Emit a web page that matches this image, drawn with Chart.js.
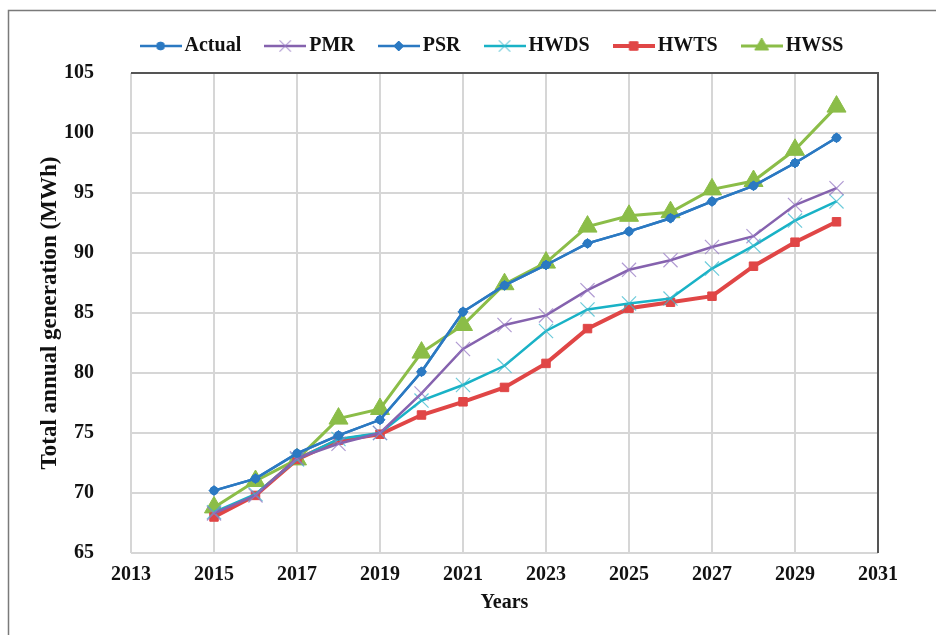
<!DOCTYPE html>
<html><head><meta charset="utf-8">
<script src="https://cdn.jsdelivr.net/npm/chart.js@4/dist/chart.umd.min.js"></script>
<style>html,body{margin:0;padding:0;background:#fff}#wrap{position:relative;width:936px;height:635px}</style>
</head><body><div id="wrap"><canvas id="c" width="936" height="635"></canvas></div>
<script>
const years = [2015,2016,2017,2018,2019,2020,2021,2022,2023,2024,2025,2026,2027,2028,2029,2030];
const actual = [70.2,71.2,73.3,74.8,76.1,80.1,85.1,87.3,89.0,90.8,91.8,92.9,94.3,95.6,97.5,99.6];
const pmr    = [68.3,69.8,72.9,74.1,75.0,78.3,82.0,84.0,84.8,86.9,88.6,89.4,90.5,91.4,94.0,95.4];
const psr    = [70.2,71.2,73.3,74.8,76.1,80.1,85.1,87.3,89.0,90.8,91.8,92.9,94.3,95.6,97.5,99.6];
const hwds   = [68.4,69.9,72.8,74.5,75.0,77.7,79.0,80.6,83.5,85.3,85.8,86.2,88.7,90.6,92.7,94.3];
const hwts   = [68.0,69.8,72.8,74.4,74.9,76.5,77.6,78.8,80.8,83.7,85.4,85.9,86.4,88.9,90.9,92.6];
const hwss   = [68.8,71.0,72.8,76.2,77.0,81.7,84.0,87.4,89.2,92.2,93.1,93.4,95.3,96.0,98.6,102.2];
const xTicks = [2013,2015,2017,2019,2021,2023,2025,2027,2029,2031];
const yTicks = [65,70,75,80,85,90,95,100,105];

const FONT = '"Liberation Serif","DejaVu Serif",serif';
const toXY = arr => arr.map((v,i)=>({x:years[i], y:v}));

const series = [
  {label:'Actual', data:actual, color:'#2B79C2', width:2.5, style:'circle', r:4, pcolor:'#2B79C2', pw:1},
  {label:'PMR', data:pmr, color:'#8562AE', width:2.5, style:'crossRot', r:10, pcolor:'rgba(150,120,195,0.75)', pw:1.2},
  {label:'PSR', data:psr, color:'#2B79C2', width:2.5, style:'rectRot', r:5, pcolor:'#2B79C2', pw:1},
  {label:'HWDS', data:hwds, color:'#19B2C6', width:2.5, style:'crossRot', r:10, pcolor:'rgba(60,185,205,0.75)', pw:1.2},
  {label:'HWTS', data:hwts, color:'#E04646', width:4, style:'rect', r:6, pcolor:'#E04646', pw:1},
  {label:'HWSS', data:hwss, color:'#8BBD48', width:3, style:'triangle', r:11, pcolor:'#8BBD48', pw:1}
];

function legendIcon(s){
  const c = document.createElement('canvas');
  c.width = 42; c.height = 20;
  const g = c.getContext('2d');
  g.strokeStyle = s.color; g.lineWidth = s.width;
  g.beginPath(); g.moveTo(0,10); g.lineTo(42,10); g.stroke();
  const r = Math.min(s.r, 8);
  g.fillStyle = s.pcolor; g.strokeStyle = s.pcolor; g.lineWidth = s.pw;
  Chart.helpers.drawPoint(g, {pointStyle:s.style, radius:r, borderWidth:s.pw, rotation:0}, 21, 10);
  return c;
}

const datasets = series.map(s => ({
  label: s.label, data: toXY(s.data),
  borderColor: s.color, backgroundColor: s.pcolor, borderWidth: s.width,
  pointStyle: s.style, pointRadius: s.r, pointBorderColor: s.pcolor, pointBackgroundColor: s.pcolor,
  pointBorderWidth: s.pw, pointHoverRadius: s.r, tension: 0, fill: false
}));

const LEGEND_DX = 56, LEGEND_DY = -7;
const frame = {
  id:'frame',
  beforeDraw(chart){
    const ctx = chart.ctx;
    ctx.save();
    ctx.strokeStyle = '#7a7a7a'; ctx.lineWidth = 1.5;
    ctx.strokeRect(8.5, 10.5, 940, 640);
    ctx.restore();
    const lg = chart.legend;
    if (lg && !lg._shifted) {
      lg.left += LEGEND_DX; lg.right += LEGEND_DX;
      lg.top += LEGEND_DY; lg.bottom += LEGEND_DY;
      lg._shifted = true;
    }
  },
  afterDatasetsDraw(chart){
    const a = chart.chartArea, ctx = chart.ctx;
    ctx.save(); ctx.strokeStyle = '#555'; ctx.lineWidth = 2;
    ctx.beginPath();
    ctx.moveTo(a.left, a.top); ctx.lineTo(a.right, a.top); ctx.lineTo(a.right, a.bottom);
    ctx.stroke();
    ctx.restore();
  }
};

new Chart(document.getElementById('c'), {
  type: 'line',
  data: { datasets },
  options: {
    responsive: false, animation: false, devicePixelRatio: 1,
    layout: { padding: { left: 0, right: 58, top: 13, bottom: 20 } },
    plugins: {
      tooltip: {enabled:false},
      legend: {
        position: 'top', align: 'center',
        labels: {
          usePointStyle: true, pointStyleWidth: 28, padding: 30,
          color: '#111', font: {family: FONT, size: 20, weight: 'bold'},
          generateLabels(chart){
            return series.map((s,i)=>({
              text: s.label, pointStyle: legendIcon(s), datasetIndex: i,
              fillStyle: s.color, strokeStyle: s.color, lineWidth: 0, hidden: false, fontColor:'#111'
            }));
          }
        }
      }
    },
    scales: {
      x: {
        type: 'linear', min: 2013, max: 2031,
        afterBuildTicks(axis){ axis.ticks = xTicks.map(v=>({value:v})); },
        ticks: { color:'#111', font:{family:FONT, size:20, weight:'bold'}, padding: 10, callback: v => String(v), maxRotation:0 },
        grid: { color:'#d6d6d6', lineWidth: 2, drawTicks: false },
        border: { display:false },
        title: { display:true, text:'Years', color:'#111', font:{family:FONT, size:20, weight:'bold'}, padding:{top:0,bottom:0} },
        afterFit(axis){ axis.height = 62; }
      },
      y: {
        min: 65, max: 105,
        afterBuildTicks(axis){ axis.ticks = yTicks.map(v=>({value:v})); },
        ticks: { color:'#111', font:{family:FONT, size:20, weight:'bold'}, padding: 37 },
        grid: { color:'#d6d6d6', lineWidth: 2, drawTicks: false },
        border: { display:false },
        title: { display:true, text:'Total annual generation (MWh)', color:'#111', font:{family:FONT, size:23, weight:'bold'}, padding:{top:36,bottom:0} },
        afterFit(axis){ axis.width = 131; }
      }
    }
  },
  plugins: [frame]
});
</script></body></html>
